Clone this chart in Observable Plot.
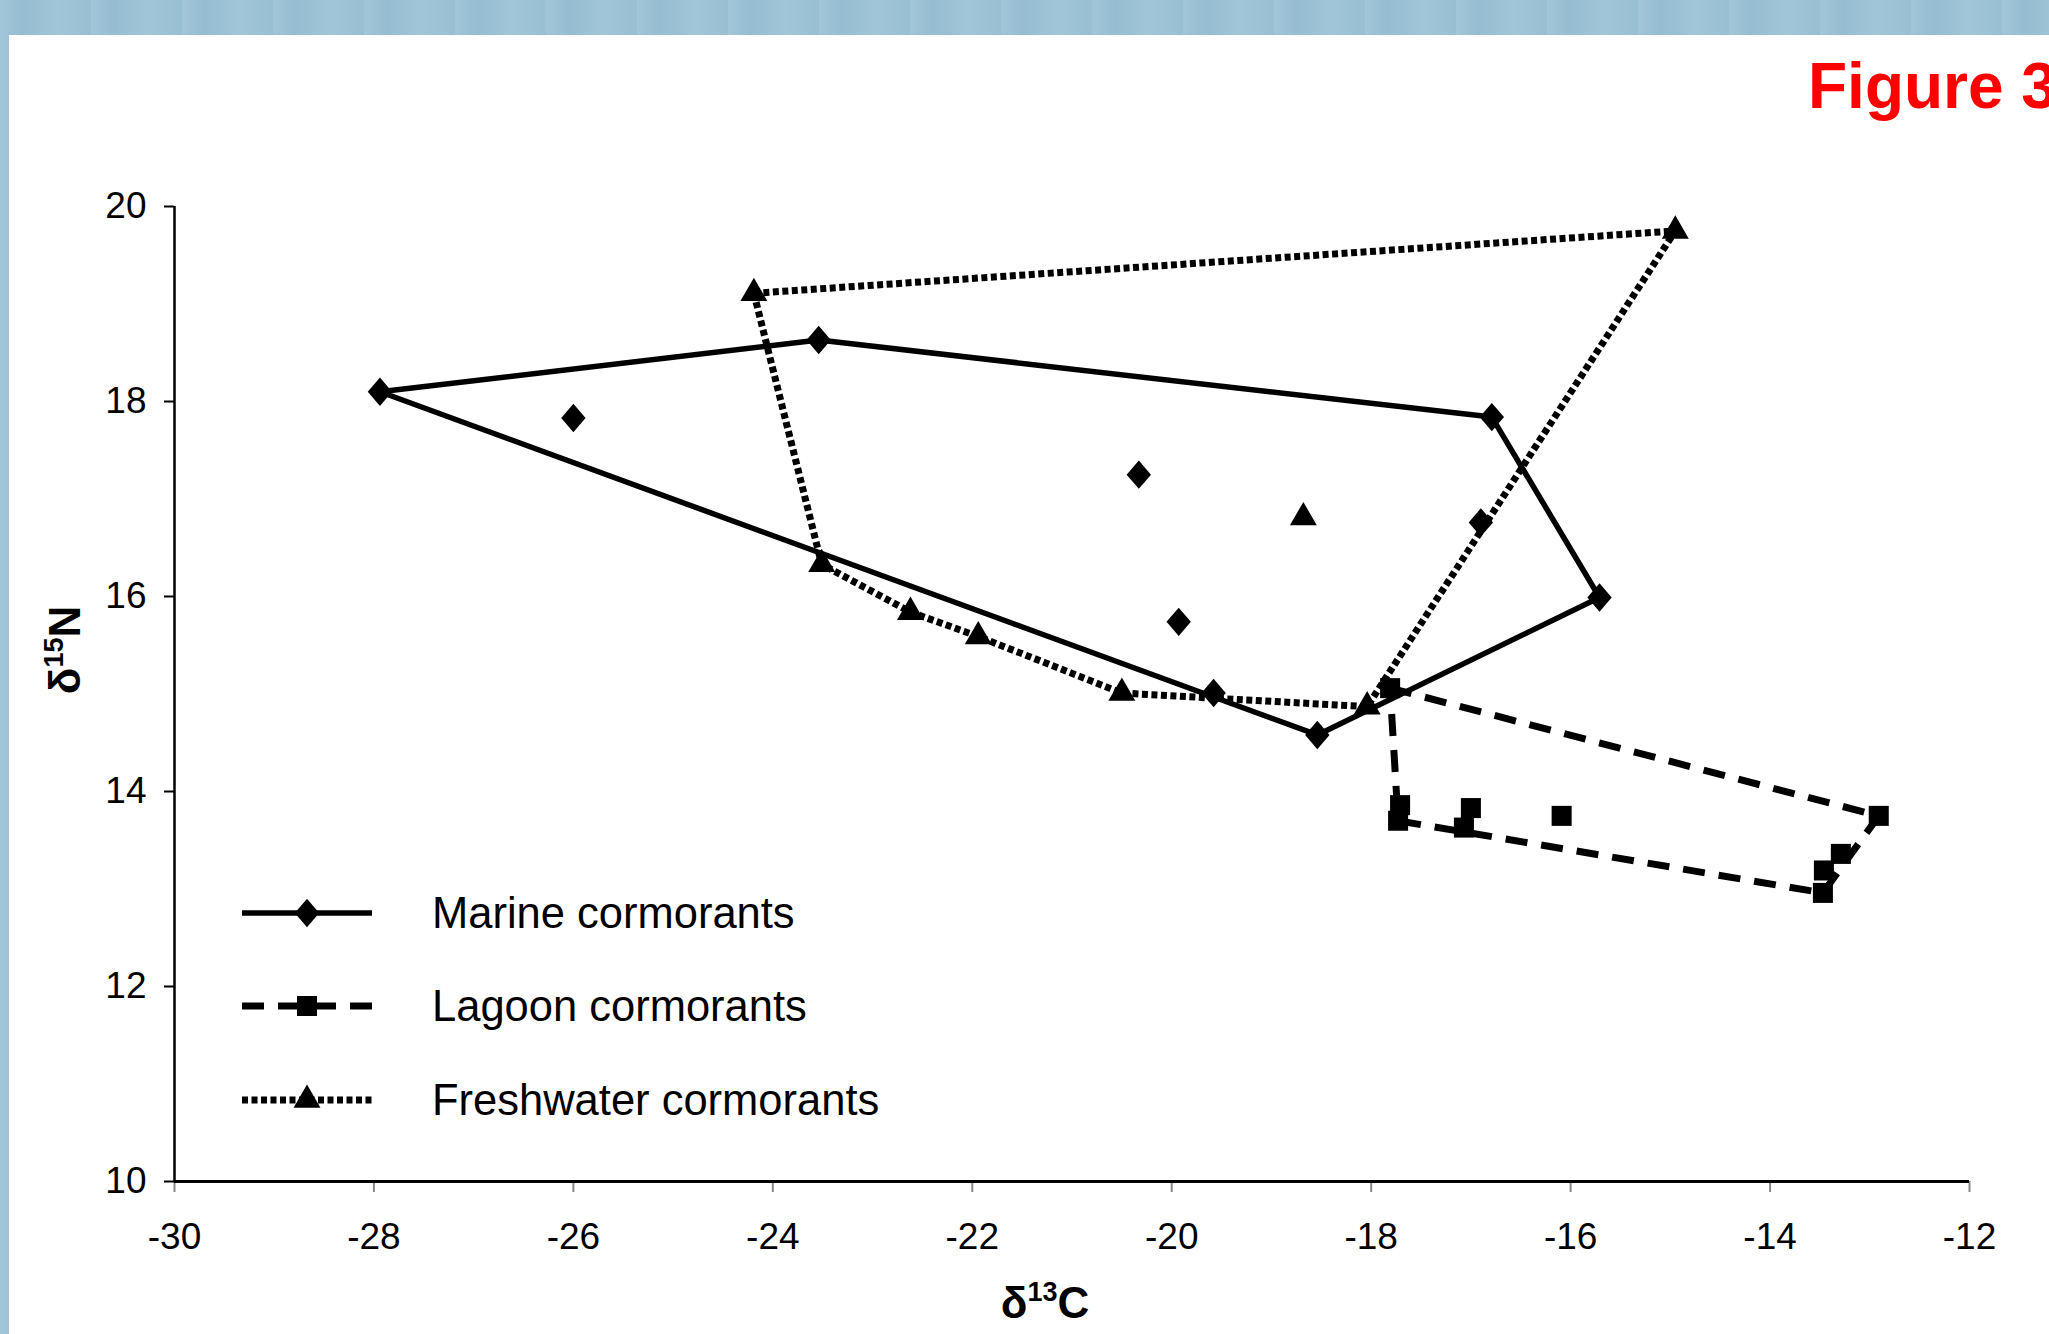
<!DOCTYPE html>
<html>
<head>
<meta charset="utf-8">
<script src="https://cdn.jsdelivr.net/npm/d3@7"></script>
<script src="https://cdn.jsdelivr.net/npm/@observablehq/plot@0.6"></script>
<style>
html,body{margin:0;padding:0;width:2049px;height:1334px;overflow:hidden;
  background:#9dc3d6;
  background-image:repeating-linear-gradient(90deg, rgba(255,255,255,0.05) 0px, rgba(0,60,100,0.05) 23px, rgba(255,255,255,0.04) 57px, rgba(0,60,100,0.03) 91px);
  font-family:"Liberation Sans",Arial,sans-serif;}
#panel{position:absolute;left:9px;top:35px;width:2040px;height:1299px;background:#fff;}
#chart{position:absolute;left:0;top:0;}
#overlay{position:absolute;left:0;top:0;}
</style>
</head>
<body>
<div id="panel"></div>
<div id="chart"></div>
<svg id="overlay" width="2049" height="1334"></svg>
<script>
// ---- data ----
const xTicks = [-30, -28, -26, -24, -22, -20, -18, -16, -14, -12];
const yTicks = [10, 12, 14, 16, 18, 20];

const seriesNames = ["Marine cormorants", "Lagoon cormorants", "Freshwater cormorants"];

const marineX = [-27.94, -26.00, -23.54, -20.33, -16.79, -19.93, -16.90, -15.71, -19.58, -18.54];
const marineY = [18.10, 17.83, 18.63, 17.25, 17.84, 15.74, 16.76, 15.99, 15.01, 14.58];
const marineOutline = [0, 2, 4, 7, 9];

const lagoonX = [-17.81, -17.71, -17.73, -17.00, -17.07, -16.09, -12.91, -13.29, -13.46, -13.47];
const lagoonY = [15.06, 13.86, 13.70, 13.83, 13.63, 13.75, 13.75, 13.36, 13.19, 12.96];
const lagoonOutline = [0, 6, 9, 2];

const freshX = [-24.19, -14.95, -23.51, -22.62, -21.94, -20.50, -18.68, -18.04];
const freshY = [19.11, 19.75, 16.33, 15.84, 15.59, 15.01, 16.81, 14.87];
const freshOutline = [0, 1, 7, 5, 4, 3, 2];

// ---- build tables ----
const pts = (xs, ys) => xs.map((x, i) => ({x, y: ys[i]}));
const outline = (xs, ys, idx) => idx.map(i => ({x: xs[i], y: ys[i]}));

const marine = pts(marineX, marineY);
const lagoon = pts(lagoonX, lagoonY);
const fresh = pts(freshX, freshY);

// wide rhombus like the spreadsheet marker
const rhombus = {
  draw(ctx, size) {
    const ry = Math.sqrt(size / 1.714), rx = 0.857 * ry;
    ctx.moveTo(0, -ry); ctx.lineTo(rx, 0); ctx.lineTo(0, ry); ctx.lineTo(-rx, 0); ctx.closePath();
  }
};

const styles = {
  marine: {stroke: "#000", strokeWidth: 5.5, strokeLinecap: "butt", strokeLinejoin: "miter"},
  lagoon: {stroke: "#000", strokeWidth: 7, strokeDasharray: "22,14", strokeLinecap: "butt", strokeLinejoin: "miter"},
  fresh: {stroke: "#000", strokeWidth: 7, strokeDasharray: "6,3.5", strokeLinecap: "butt", strokeLinejoin: "miter"}
};

const chart = Plot.plot({
  width: 2049,
  height: 1334,
  marginLeft: 174,
  marginRight: 80,
  marginTop: 206,
  marginBottom: 153,
  style: {background: "transparent", fontFamily: "Liberation Sans, Arial, sans-serif", color: "#000"},
  x: {domain: [-30, -12]},
  y: {domain: [10, 20]},
  marks: [
    Plot.axisX({ticks: xTicks, tickFormat: d => String(d), tickSize: 11, tickPadding: 30, stroke: "#888", strokeWidth: 2, fill: "#000", fontSize: 37, label: null}),
    Plot.axisY({ticks: yTicks, tickFormat: d => String(d), tickSize: 10, tickPadding: 18, stroke: "#000", strokeWidth: 2, fill: "#000", fontSize: 37, label: null}),
    Plot.ruleX([-30], {stroke: "#000", strokeWidth: 2.5}),
    Plot.ruleY([10], {stroke: "#000", strokeWidth: 3}),
    Plot.line(outline(marineX, marineY, marineOutline), {x: "x", y: "y", curve: "linear-closed", ...styles.marine}),
    Plot.line(outline(lagoonX, lagoonY, lagoonOutline), {x: "x", y: "y", curve: "linear-closed", ...styles.lagoon}),
    Plot.line(outline(freshX, freshY, freshOutline), {x: "x", y: "y", curve: "linear-closed", ...styles.fresh}),
    Plot.dot(marine, {x: "x", y: "y", symbol: rhombus, r: 10.5, fill: "#000"}),
    Plot.dot(lagoon, {x: "x", y: "y", symbol: "square", r: 11.3, fill: "#000"}),
    Plot.dot(fresh, {x: "x", y: "y", symbol: "triangle", r: 10, fill: "#000"})
  ]
});
document.getElementById("chart").appendChild(chart);

// ---- overlay texts & legend ----
const svg = d3.select("#overlay");
const font = "Liberation Sans, Arial, sans-serif";

svg.append("text").attr("x", 1808).attr("y", 108)
  .attr("font-family", font).attr("font-weight", "bold").attr("font-size", 64)
  .attr("fill", "#ff0000").text("Figure 3");

// x title
const xt = svg.append("text").attr("x", 1045).attr("y", 1318).attr("text-anchor", "middle")
  .attr("font-family", font).attr("font-weight", "bold").attr("font-size", 44).attr("fill", "#000");
xt.append("tspan").text("δ");
xt.append("tspan").attr("font-size", 27).attr("dy", -17).text("13");
xt.append("tspan").attr("dy", 17).text("C");

// y title
const yt = svg.append("text").attr("transform", "translate(80,650) rotate(-90)").attr("text-anchor", "middle")
  .attr("font-family", font).attr("font-weight", "bold").attr("font-size", 44).attr("fill", "#000");
yt.append("tspan").text("δ");
yt.append("tspan").attr("font-size", 27).attr("dy", -17).text("15");
yt.append("tspan").attr("dy", 17).text("N");

// legend
const legendRows = [
  {name: seriesNames[0], st: styles.marine, sym: rhombus, size: Math.PI * 10.5 * 10.5},
  {name: seriesNames[1], st: styles.lagoon, sym: d3.symbolSquare, size: Math.PI * 11.3 * 11.3},
  {name: seriesNames[2], st: styles.fresh, sym: d3.symbolTriangle, size: Math.PI * 10 * 10}
];
const rowY = [913, 1006, 1100];
legendRows.forEach((r, i) => {
  const g = svg.append("g").attr("transform", `translate(0,${rowY[i]})`);
  g.append("line").attr("x1", 242).attr("x2", 372).attr("y1", 0).attr("y2", 0)
    .attr("stroke", "#000").attr("stroke-width", r.st.strokeWidth)
    .attr("stroke-dasharray", r.st.strokeDasharray || null);
  g.append("path").attr("transform", "translate(307,0)").attr("d", d3.symbol(r.sym, r.size)()).attr("fill", "#000");
  g.append("text").attr("x", 432).attr("y", 15).attr("font-family", font).attr("font-size", 43.5)
    .attr("fill", "#000").text(r.name);
});
</script>
</body>
</html>
